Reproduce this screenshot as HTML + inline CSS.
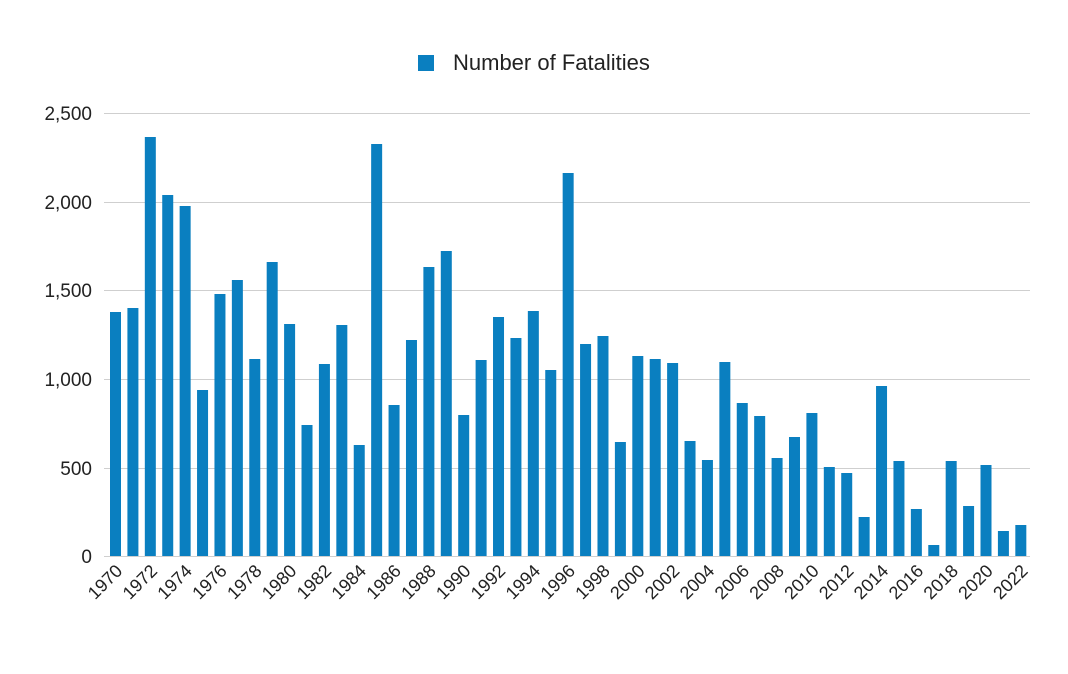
<!DOCTYPE html>
<html><head><meta charset="utf-8"><style>
html,body{margin:0;padding:0;background:#fff;}
svg{display:block;font-family:"Liberation Sans",sans-serif;}
</style></head><body>
<svg width="1068" height="674" viewBox="0 0 1068 674" xmlns="http://www.w3.org/2000/svg">
<rect width="1068" height="674" fill="#fff"/>
<g stroke="#cfcfcf" stroke-width="1">
<line x1="104" x2="1030" y1="113.5" y2="113.5"/>
<line x1="104" x2="1030" y1="202.5" y2="202.5"/>
<line x1="104" x2="1030" y1="290.5" y2="290.5"/>
<line x1="104" x2="1030" y1="379.5" y2="379.5"/>
<line x1="104" x2="1030" y1="468.5" y2="468.5"/>
<line x1="104" x2="1030" y1="556.5" y2="556.5"/>
</g>
<g font-size="19" fill="#222" text-anchor="end">
<text x="92" y="120">2,500</text>
<text x="92" y="209">2,000</text>
<text x="92" y="297">1,500</text>
<text x="92" y="386">1,000</text>
<text x="92" y="475">500</text>
<text x="92" y="563">0</text>
</g>
<rect x="418" y="55" width="16" height="16" fill="#0a7fc0"/>
<text x="453" y="70" font-size="22" fill="#222">Number of Fatalities</text>
<g fill="#0a7fc0">
<rect x="110.0" y="312" width="11" height="244"/>
<rect x="127.41" y="308" width="11" height="248"/>
<rect x="144.82" y="137" width="11" height="419"/>
<rect x="162.23" y="195" width="11" height="361"/>
<rect x="179.64" y="206" width="11" height="350"/>
<rect x="197.05" y="390" width="11" height="166"/>
<rect x="214.46" y="294" width="11" height="262"/>
<rect x="231.87" y="280" width="11" height="276"/>
<rect x="249.28" y="359" width="11" height="197"/>
<rect x="266.69" y="262" width="11" height="294"/>
<rect x="284.1" y="324" width="11" height="232"/>
<rect x="301.51" y="425" width="11" height="131"/>
<rect x="318.92" y="364" width="11" height="192"/>
<rect x="336.33" y="325" width="11" height="231"/>
<rect x="353.74" y="445" width="11" height="111"/>
<rect x="371.15" y="144" width="11" height="412"/>
<rect x="388.56" y="405" width="11" height="151"/>
<rect x="405.97" y="340" width="11" height="216"/>
<rect x="423.38" y="267" width="11" height="289"/>
<rect x="440.79" y="251" width="11" height="305"/>
<rect x="458.2" y="415" width="11" height="141"/>
<rect x="475.61" y="360" width="11" height="196"/>
<rect x="493.02" y="317" width="11" height="239"/>
<rect x="510.43" y="338" width="11" height="218"/>
<rect x="527.84" y="311" width="11" height="245"/>
<rect x="545.25" y="370" width="11" height="186"/>
<rect x="562.66" y="173" width="11" height="383"/>
<rect x="580.07" y="344" width="11" height="212"/>
<rect x="597.48" y="336" width="11" height="220"/>
<rect x="614.89" y="442" width="11" height="114"/>
<rect x="632.3" y="356" width="11" height="200"/>
<rect x="649.71" y="359" width="11" height="197"/>
<rect x="667.12" y="363" width="11" height="193"/>
<rect x="684.53" y="441" width="11" height="115"/>
<rect x="701.94" y="460" width="11" height="96"/>
<rect x="719.35" y="362" width="11" height="194"/>
<rect x="736.76" y="403" width="11" height="153"/>
<rect x="754.17" y="416" width="11" height="140"/>
<rect x="771.58" y="458" width="11" height="98"/>
<rect x="788.99" y="437" width="11" height="119"/>
<rect x="806.4" y="413" width="11" height="143"/>
<rect x="823.81" y="467" width="11" height="89"/>
<rect x="841.22" y="473" width="11" height="83"/>
<rect x="858.63" y="517" width="11" height="39"/>
<rect x="876.04" y="386" width="11" height="170"/>
<rect x="893.45" y="461" width="11" height="95"/>
<rect x="910.86" y="509" width="11" height="47"/>
<rect x="928.27" y="545" width="11" height="11"/>
<rect x="945.68" y="461" width="11" height="95"/>
<rect x="963.09" y="506" width="11" height="50"/>
<rect x="980.5" y="465" width="11" height="91"/>
<rect x="997.91" y="531" width="11" height="25"/>
<rect x="1015.32" y="525" width="11" height="31"/>
</g>
<g font-size="18" fill="#222" text-anchor="end">
<text transform="translate(123.5,572) rotate(-45)">1970</text>
<text transform="translate(158.3,572) rotate(-45)">1972</text>
<text transform="translate(193.1,572) rotate(-45)">1974</text>
<text transform="translate(228.0,572) rotate(-45)">1976</text>
<text transform="translate(262.8,572) rotate(-45)">1978</text>
<text transform="translate(297.6,572) rotate(-45)">1980</text>
<text transform="translate(332.4,572) rotate(-45)">1982</text>
<text transform="translate(367.2,572) rotate(-45)">1984</text>
<text transform="translate(402.1,572) rotate(-45)">1986</text>
<text transform="translate(436.9,572) rotate(-45)">1988</text>
<text transform="translate(471.7,572) rotate(-45)">1990</text>
<text transform="translate(506.5,572) rotate(-45)">1992</text>
<text transform="translate(541.3,572) rotate(-45)">1994</text>
<text transform="translate(576.2,572) rotate(-45)">1996</text>
<text transform="translate(611.0,572) rotate(-45)">1998</text>
<text transform="translate(645.8,572) rotate(-45)">2000</text>
<text transform="translate(680.6,572) rotate(-45)">2002</text>
<text transform="translate(715.4,572) rotate(-45)">2004</text>
<text transform="translate(750.3,572) rotate(-45)">2006</text>
<text transform="translate(785.1,572) rotate(-45)">2008</text>
<text transform="translate(819.9,572) rotate(-45)">2010</text>
<text transform="translate(854.7,572) rotate(-45)">2012</text>
<text transform="translate(889.5,572) rotate(-45)">2014</text>
<text transform="translate(924.4,572) rotate(-45)">2016</text>
<text transform="translate(959.2,572) rotate(-45)">2018</text>
<text transform="translate(994.0,572) rotate(-45)">2020</text>
<text transform="translate(1028.8,572) rotate(-45)">2022</text>
</g>
</svg>
</body></html>
